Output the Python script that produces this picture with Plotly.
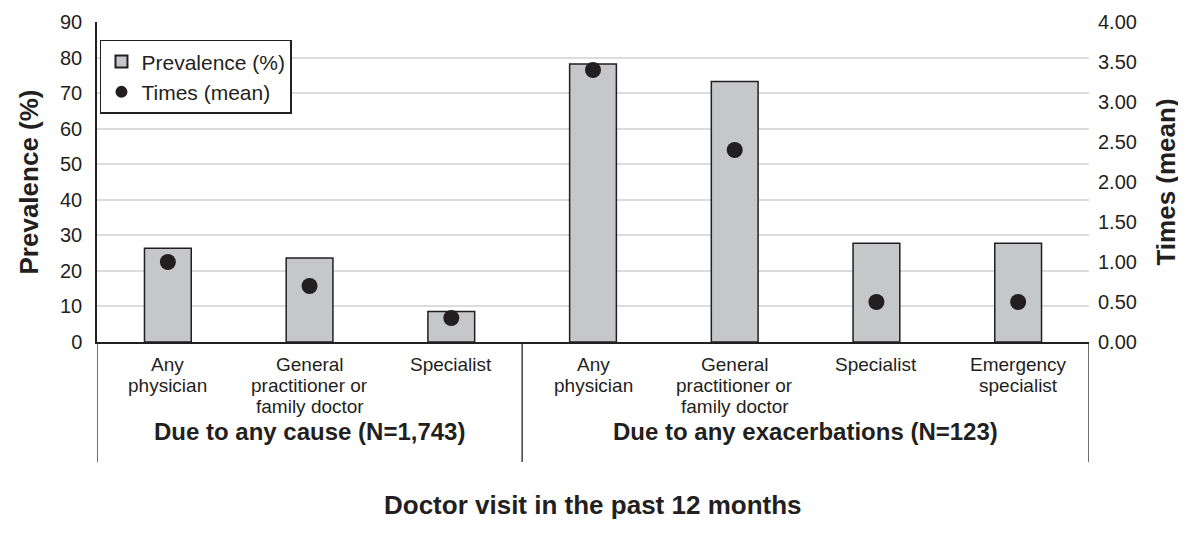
import plotly.graph_objects as go

categories = ["Any<br>physician", "General<br>practitioner or<br>family doctor", "Specialist",
              "Any<br>physician", "General<br>practitioner or<br>family doctor", "Specialist",
              "Emergency<br>specialist"]
prevalence = [26.4, 23.6, 8.6, 78.2, 73.3, 27.8, 27.8]
times_mean = [1.00, 0.70, 0.30, 3.40, 2.40, 0.50, 0.50]
groups = ["Due to any cause (N=1,743)", "Due to any exacerbations (N=123)"]
group_centers = [1, 4.5]
y1_ticks = list(range(0, 91, 10))
y2_ticks = [0, 0.5, 1, 1.5, 2, 2.5, 3, 3.5, 4]

xs = list(range(len(categories)))
FONT = "Liberation Sans, Arial, sans-serif"
TXT = "#231f20"
PLOT_H = 320

fig = go.Figure()
fig.add_trace(go.Bar(
    x=xs, y=prevalence, name="Prevalence (%)", width=0.33,
    marker=dict(color="#c6c7c8", line=dict(color="#231f20", width=1.5)),
    yaxis="y"))
fig.add_trace(go.Scatter(
    x=xs, y=times_mean, name="Times (mean)", mode="markers",
    marker=dict(color="#231f20", size=16, symbol="circle"),
    yaxis="y2"))

# category labels (one text per line, tighter line spacing than tick labels allow)
for i, lab in enumerate(categories):
    for k, line in enumerate(lab.split("<br>")):
        fig.add_annotation(x=i, xref="x", y=0, yref="paper", text=line,
                           showarrow=False, yanchor="middle",
                           yshift=-(22 + 21 * k),
                           font=dict(size=19, color=TXT, family=FONT))

# category group dividers below the axis
for xv in [-0.5, 2.5, 6.5]:
    fig.add_shape(type="line", xref="x", yref="paper", x0=xv, x1=xv, y0=0,
                  y1=-120 / PLOT_H, line=dict(color=TXT, width=1.3))

for g, c in zip(groups, group_centers):
    fig.add_annotation(x=c, xref="x", y=-89 / PLOT_H, yref="paper", text=f"<b>{g}</b>",
                       showarrow=False, font=dict(size=24, color=TXT, family=FONT),
                       yanchor="middle")

fig.add_annotation(x=0.5, xref="paper", y=-163 / PLOT_H, yref="paper",
                   text="<b>Doctor visit in the past 12 months</b>", showarrow=False,
                   font=dict(size=26, color=TXT, family=FONT), yanchor="middle")

fig.update_layout(
    width=1186, height=535,
    margin=dict(l=89, r=105, t=14, b=535 - 14 - PLOT_H),
    paper_bgcolor="white", plot_bgcolor="white",
    font=dict(family=FONT, size=20, color=TXT),
    xaxis=dict(range=[-0.5, 6.5], tickvals=xs, showticklabels=False,
               showline=True, linecolor=TXT, linewidth=1.5, ticks="",
               showgrid=False, zeroline=False),
    yaxis=dict(range=[0, 90], tickvals=y1_ticks, showgrid=True, gridcolor="#dcdcdc",
               gridwidth=1.5, showline=True, linecolor=TXT, linewidth=1.5,
               zeroline=False, ticks="", ticklabelstandoff=9, automargin=False,
               title=dict(text="<b>Prevalence (%)</b>", font=dict(size=26, color=TXT),
                          standoff=14),
               tickfont=dict(size=20, color=TXT)),
    yaxis2=dict(range=[0, 4], tickvals=y2_ticks, tickformat=".2f", overlaying="y",
                side="right", showgrid=False, showline=False, zeroline=False,
                ticklabelstandoff=8, automargin=False,
                title=dict(text="<b>Times (mean)</b>", font=dict(size=26, color=TXT),
                           standoff=20),
                tickfont=dict(size=20, color=TXT)),
    legend=dict(x=0.003, y=0.944, xanchor="left", yanchor="top",
                bgcolor="white", bordercolor=TXT, borderwidth=1.5,
                font=dict(size=21, color=TXT), tracegroupgap=0,
                itemsizing="constant"),
    showlegend=True,
)

fig.write_html("out.html")
